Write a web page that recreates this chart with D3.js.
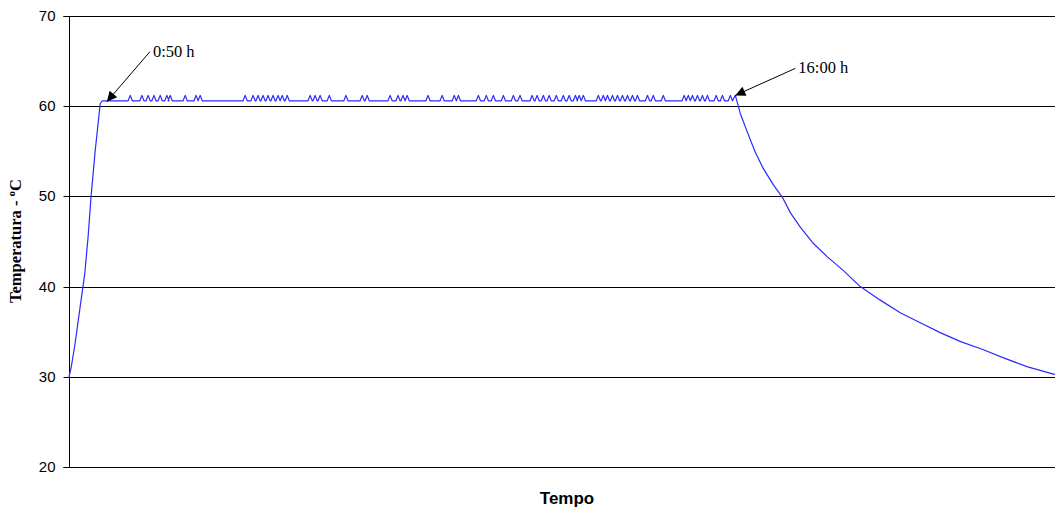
<!DOCTYPE html>
<html>
<head>
<meta charset="utf-8">
<script src="https://cdn.jsdelivr.net/npm/d3@7"></script>
<style>
  html, body { margin: 0; padding: 0; background: #fff; }
  svg { display: block; }
</style>
</head>
<body>
<svg id="chart" width="1055" height="507"></svg>
<script>
// ---- data (time in hours, temperature in °C) ----
const tempTicks = [20, 30, 40, 50, 60, 70];

// heating ramp
const rampTime = [0.00, 0.05, 0.14, 0.26, 0.38, 0.46, 0.53, 0.63, 0.75, 0.80];
const rampTemp = [30.0, 31.0, 33.5, 37.5, 41.5, 45.6, 50.0, 55.1, 60.3, 60.6];

// plateau: base level and small control oscillation peaks
const plateauBase = 60.6;
const plateauPeak = 61.2;
const spikeTimes = [
  1.47, 1.75, 1.90, 2.04, 2.19, 2.35, 2.43, 2.79, 3.05, 3.15,
  4.23, 4.42, 4.54, 4.66, 4.78, 4.90, 5.02, 5.12, 5.24,
  5.79, 5.91, 6.03, 6.25, 6.65, 7.04, 7.16, 7.71, 7.90, 8.02, 8.12,
  8.62, 8.96, 9.25, 9.35, 9.83, 10.02, 10.19, 10.43, 10.67, 10.83,
  11.12, 11.24, 11.39, 11.53, 11.70, 11.87, 12.01, 12.16, 12.25, 12.35,
  12.71, 12.83, 12.93, 13.05, 13.17, 13.29, 13.41, 13.53, 13.65,
  13.89, 14.03, 14.27, 14.77, 14.87, 14.97, 15.09, 15.21, 15.33,
  15.54, 15.69, 15.88
];

// cooling after heating stops at 16:00 h
const coolTime = [16.00, 16.12, 16.29, 16.48, 16.67, 16.91, 17.13, 17.32, 17.56, 17.87,
                  18.21, 18.59, 19.00, 19.48, 19.96, 20.44, 20.92, 21.41, 21.96, 22.44,
                  23.02, 23.64, 23.70];
const coolTemp = [61.2, 59.2, 57.1, 54.9, 53.1, 51.3, 49.9, 48.2, 46.6, 44.8,
                  43.3, 41.8, 40.0, 38.5, 37.1, 36.0, 34.9, 33.9, 33.0, 32.1,
                  31.1, 30.3, 30.3];

// annotations
const annotLabels = ["0:50 h", "16:00 h"];
const annotTime = [0.91, 16.0];
const annotTemp = [60.5, 61.2];

const yTitle = "Temperatura - ";
const xTitle = "Tempo";

// ---- build series ----
const halfW = 0.05;
const series = [];
rampTime.forEach((t, i) => series.push([t, rampTemp[i]]));
spikeTimes.forEach(t => {
  series.push([t - halfW, plateauBase]);
  series.push([t, plateauPeak]);
  series.push([t + halfW, plateauBase]);
});
coolTime.forEach((t, i) => series.push([t, coolTemp[i]]));

// ---- layout ----
const svg = d3.select("#chart");
const mLeft = 69, mRight = 1056, mTop = 16, mBottom = 467;
const x = d3.scaleLinear().domain([0, 23.7]).range([mLeft, mRight]);
const y = d3.scaleLinear().domain([20, 70]).range([mBottom, mTop]);

// gridlines
svg.append("g")
  .selectAll("line")
  .data(tempTicks)
  .join("line")
  .attr("x1", mLeft).attr("x2", mRight)
  .attr("y1", d => Math.round(y(d)) + 0.5)
  .attr("y2", d => Math.round(y(d)) + 0.5)
  .attr("stroke", "#000")
  .attr("stroke-width", 1);

// left axis
const yAxis = d3.axisLeft(y).tickValues(tempTicks).tickSize(6).tickPadding(8).tickFormat(d3.format("d"));
const gy = svg.append("g").attr("transform", `translate(${mLeft + 0.5},0.5)`).call(yAxis);
gy.select(".domain").attr("stroke", "#000");
gy.selectAll(".tick line").attr("stroke", "#000");
gy.selectAll(".tick text")
  .attr("font-family", "Arial, 'Liberation Sans', sans-serif")
  .attr("font-size", "15px")
  .attr("fill", "#000");
gy.selectAll(".tick").attr("transform", d => `translate(0,${Math.round(y(d))})`);
gy.select(".domain").attr("d", `M-6,${Math.round(y(70))}H0V${Math.round(y(20))}H-6`);

// data line
const line = d3.line().x(d => x(d[0])).y(d => y(d[1]));
svg.append("path")
  .datum(series)
  .attr("d", line)
  .attr("fill", "none")
  .attr("stroke", "#2a2aff")
  .attr("stroke-width", 1.2)
  .attr("stroke-linejoin", "round");

// arrowhead marker
svg.append("defs").append("marker")
  .attr("id", "arrow")
  .attr("viewBox", "0 0 10 10")
  .attr("refX", 10).attr("refY", 5)
  .attr("markerWidth", 13).attr("markerHeight", 10)
  .attr("markerUnits", "userSpaceOnUse")
  .attr("orient", "auto")
  .append("path")
  .attr("d", "M0,0L10,5L0,10Z")
  .attr("fill", "#000");

// annotations (label offset relative to target point)
const labelOffsets = [[44, -50], [61, -27]];
annotLabels.forEach((lab, i) => {
  const tx = x(annotTime[i]), ty = y(annotTemp[i]);
  const [dx, dy] = labelOffsets[i];
  svg.append("line")
    .attr("x1", tx + dx - 1).attr("y1", ty + dy)
    .attr("x2", tx).attr("y2", ty)
    .attr("stroke", "#000").attr("stroke-width", 1)
    .attr("marker-end", "url(#arrow)");
  svg.append("text")
    .attr("x", tx + dx + 2).attr("y", ty + dy + 5)
    .attr("font-family", "'Times New Roman', 'Liberation Serif', serif")
    .attr("font-size", "16.5px")
    .attr("fill", "#000")
    .text(lab);
});

// axis titles
svg.append("text")
  .attr("x", 567).attr("y", 504)
  .attr("text-anchor", "middle")
  .attr("font-family", "Arial, 'Liberation Sans', sans-serif")
  .attr("font-weight", "bold")
  .attr("font-size", "17px")
  .attr("fill", "#000")
  .text(xTitle);

const yt = svg.append("text")
  .attr("transform", "translate(21,241) rotate(-90)")
  .attr("text-anchor", "middle")
  .attr("font-family", "'Times New Roman', 'Liberation Serif', serif")
  .attr("font-weight", "bold")
  .attr("font-size", "16.5px")
  .attr("fill", "#000");
yt.append("tspan").text(yTitle);
yt.append("tspan").attr("font-size", "11px").attr("dy", -6).text("o");
yt.append("tspan").attr("dy", 6).text("C");
</script>
</body>
</html>
